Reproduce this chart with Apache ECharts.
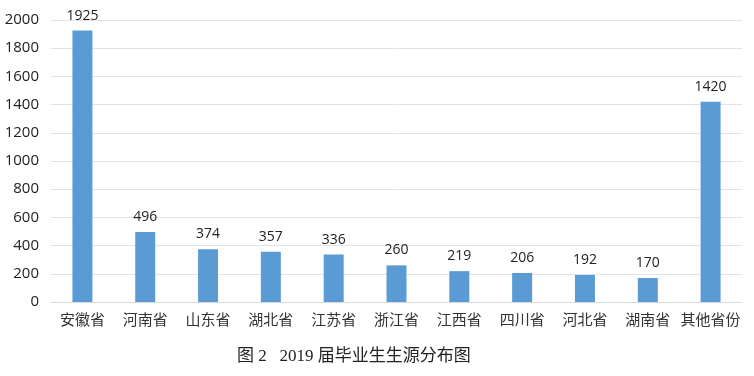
<!DOCTYPE html>
<html>
<head>
<meta charset="utf-8">
<script src="https://cdn.jsdelivr.net/npm/echarts@6/dist/echarts.min.js"></script>
<style>
  html, body { margin: 0; padding: 0; background: #fff; }
  #chart { width: 754px; height: 376px; }
</style>
</head>
<body>
<div id="chart"></div>
<script>
// 省份与人数
const provinces = ["安徽省", "河南省", "山东省", "湖北省", "江苏省", "浙江省", "江西省", "四川省", "河北省", "湖南省", "其他省份"];
const counts = [1925, 496, 374, 357, 336, 260, 219, 206, 192, 170, 1420];
const yTicks = { min: 0, max: 2000, interval: 200 };

let chart = echarts.init(document.getElementById("chart"));

let option = {
  animation: false,
  title: {
    text: "图 2   2019 届毕业生生源分布图",
    left: 232,
    top: 343,
    textStyle: {
      fontFamily: "'Liberation Serif', 'Noto Sans CJK SC', serif",
      fontSize: 17,
      fontWeight: "normal",
      color: "#222",
    },
  },
  grid: {
    left: 51,
    right: 12,
    top: 20,
    bottom: 74,
  },
  xAxis: {
    type: "category",
    data: provinces,
    axisTick: { show: false },
    axisLine: { lineStyle: { color: "#d9d9d9" } },
    axisLabel: {
      interval: 0, // 全部显示
      margin: 10,
      color: "#333",
      fontSize: 15,
      fontFamily: "'Noto Sans CJK SC', sans-serif",
    },
  },
  yAxis: {
    type: "value",
    min: yTicks.min,
    max: yTicks.max,
    interval: yTicks.interval,
    axisLine: { show: false },
    axisTick: { show: false },
    splitLine: { lineStyle: { color: "#e3e3e3" } },
    axisLabel: {
      margin: 12,
      color: "#222",
      fontSize: 15,
      fontFamily: "'Open Sans', 'DejaVu Sans', sans-serif",
      formatter: (v) => String(v),
    },
  },
  series: [
    {
      type: "bar",
      data: counts,
      barWidth: 20,
      itemStyle: { color: "#5b9bd5" },
      label: {
        show: true, // 数值在上方
        position: "top",
        distance: 8,
        color: "#222",
        fontSize: 14,
        fontFamily: "'Open Sans', 'DejaVu Sans', sans-serif",
      },
    },
  ],
};

chart.setOption(option);
</script>
</body>
</html>
